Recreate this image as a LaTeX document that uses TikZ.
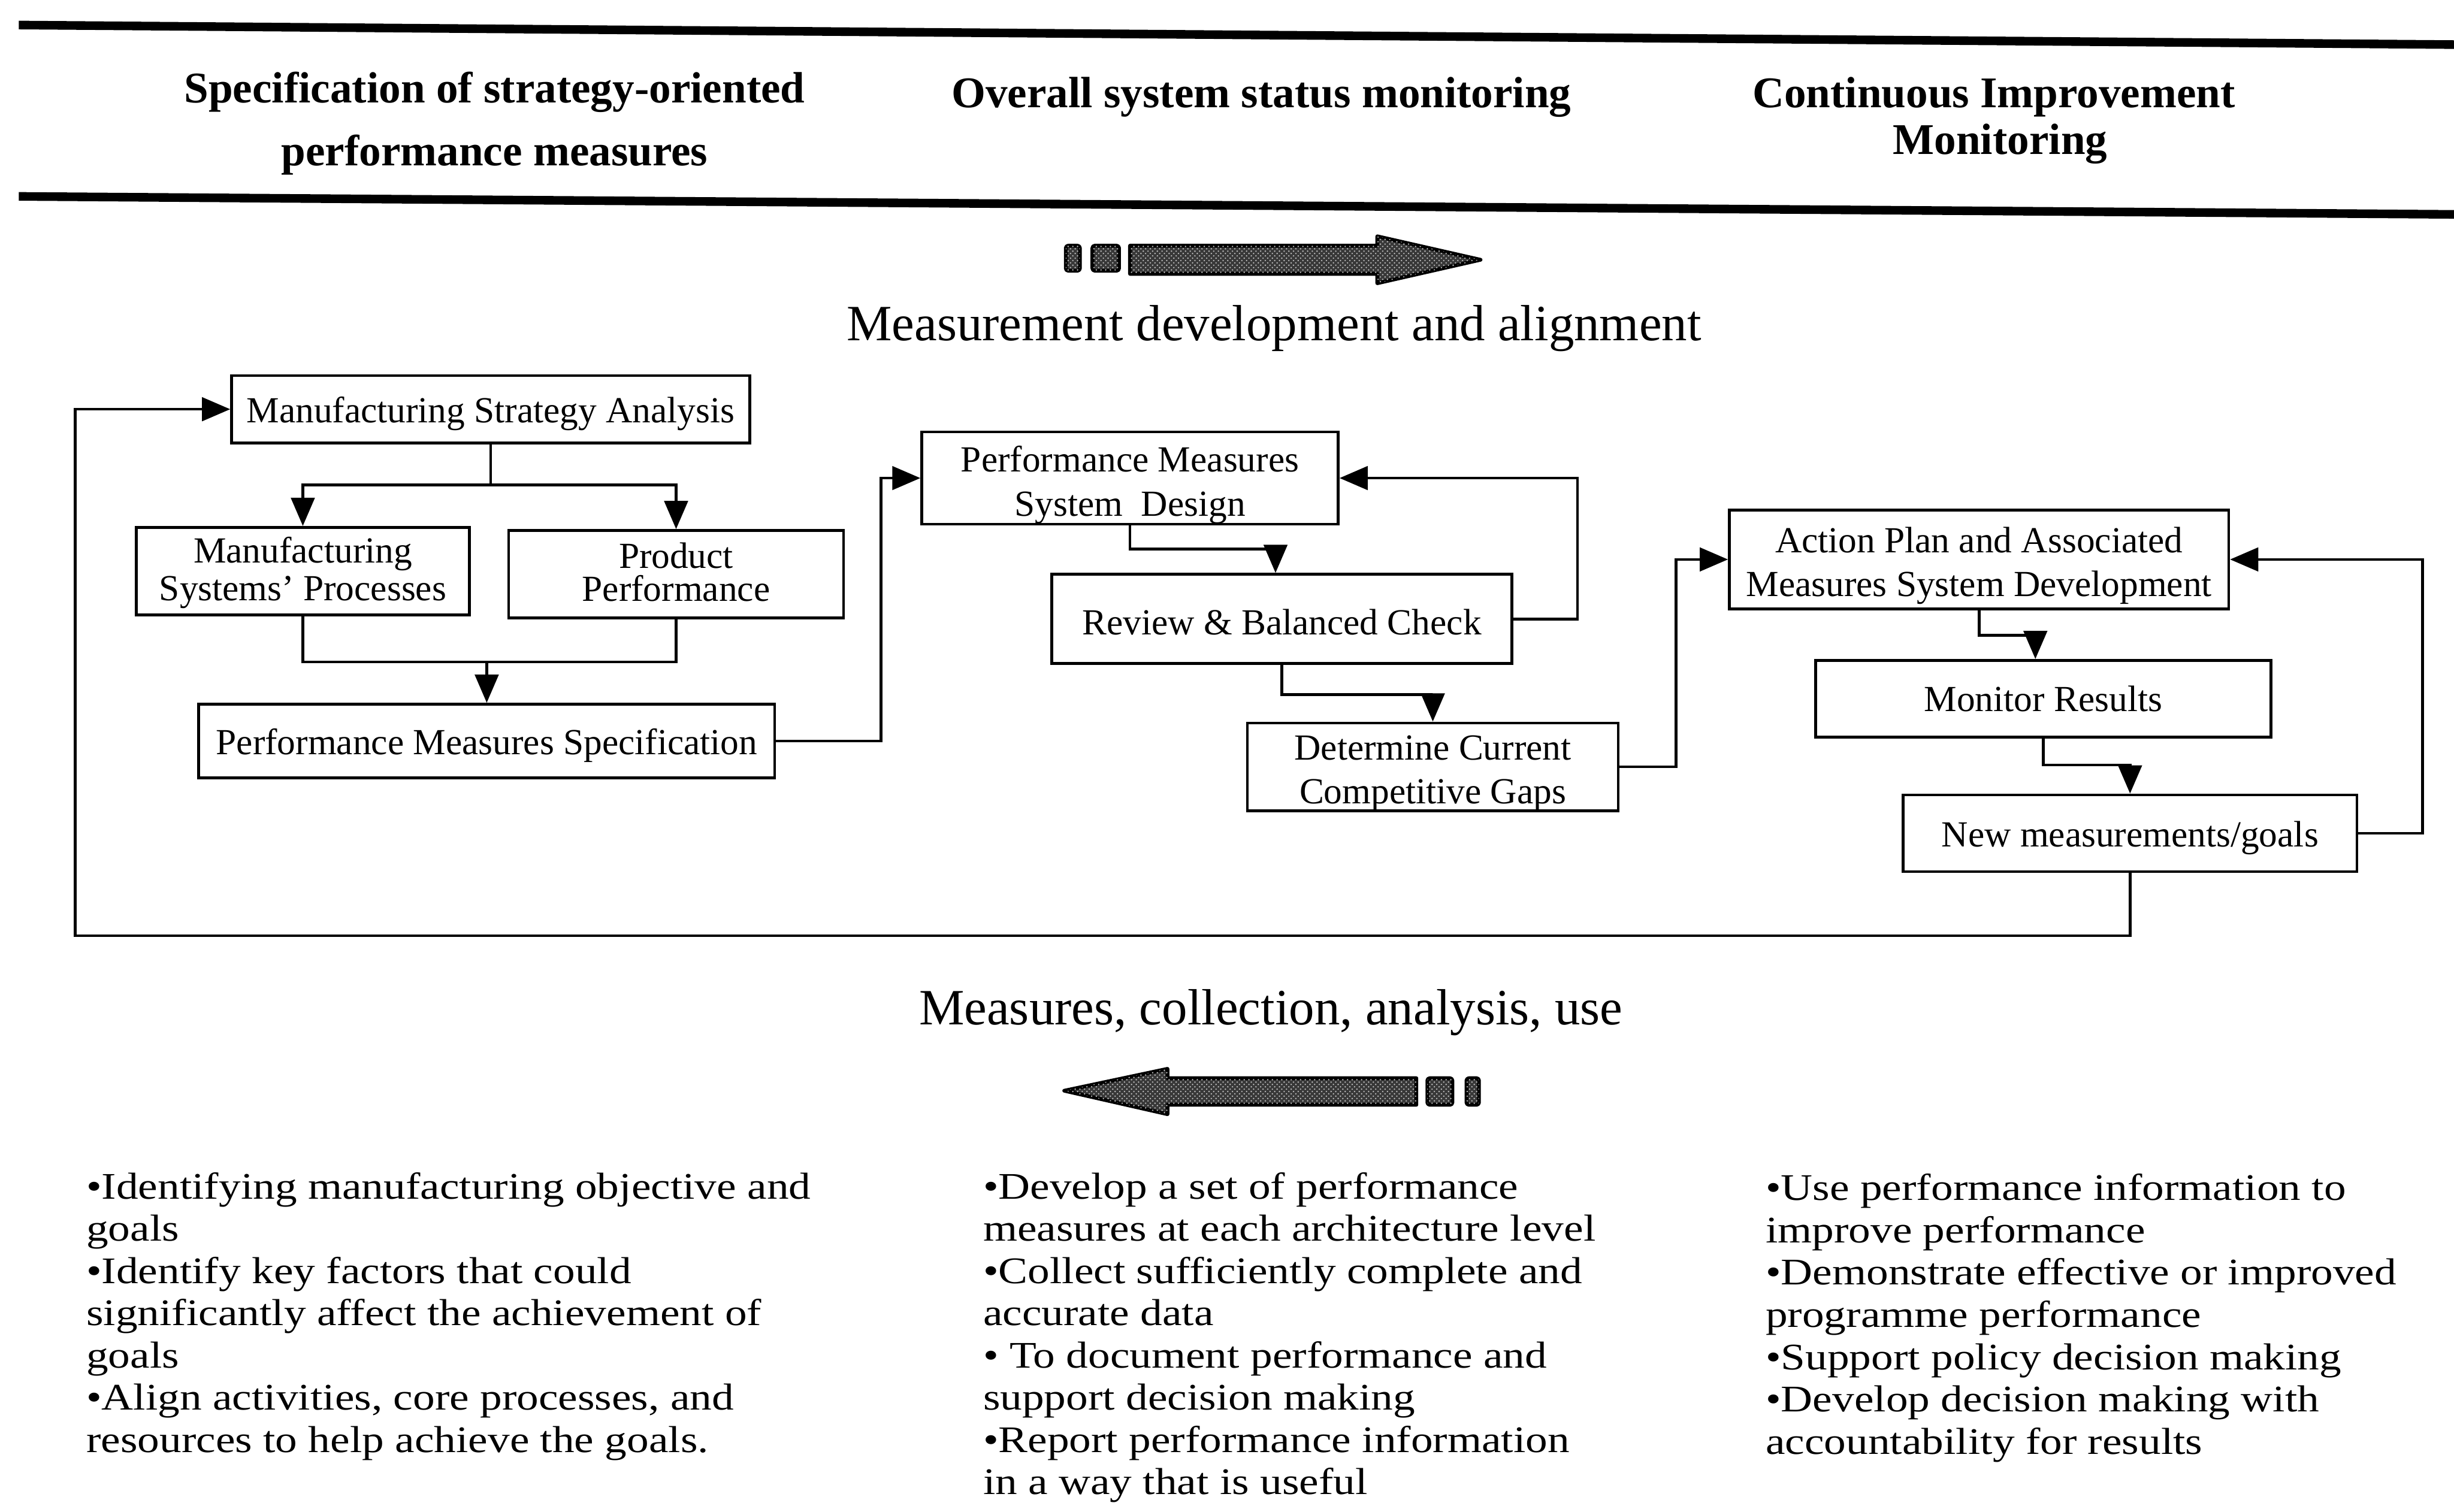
\documentclass[tikz,border=0pt]{standalone}
\usepackage{fontspec}
\setmainfont{Liberation Serif}
\newfontfamily\widefont[FakeStretch=1.17]{Liberation Serif}
\usetikzlibrary{arrows.meta,patterns}

% centred box lines, moved vertically while keeping their measured size
\newcommand\boxlines[2][0pt]{\raisebox{#1}[\height][\depth]{\begin{tabular}{@{}c@{}}#2\end{tabular}}}

\tikzset{
  box/.style={draw, line width=1.8pt, inner sep=0pt,
              font=\fontsize{23.5}{28}\selectfont},
  plain/.style={line width=1.8pt},
  link/.style={line width=1.8pt, -{Triangle[length=18pt,width=15pt]}},
  rule/.style={line width=5.5pt},
  heading/.style={font=\fontsize{28}{30}\selectfont\bfseries, inner sep=0pt},
  caption/.style={font=\fontsize{32.5}{36}\selectfont, inner sep=0pt},
  bullets/.style={font=\widefont\fontsize{24}{27}\selectfont, align=left,
                  inner sep=0pt, anchor=north west},
  hatched/.style={draw, line width=2.4pt, line join=round, fill=black!78,
                  postaction={pattern=crosshatch dots, pattern color=white!75!black}},
}

\begin{document}
\begin{tikzpicture}[x=1pt,y=-1pt]
\useasboundingbox (0,0) rectangle (1568,966);

% header rules
\draw[rule] (12,16) -- (1568,28.5);
\draw[rule] (12,125.5) -- (1568,137);

% column headings
\node[heading] (h1a) at (316,59) {Specification of strategy-oriented};
\node[heading] (h1b) at (316,99) {performance measures};
\node[heading] (h2)  at (806,62) {Overall system status monitoring};
\node[heading] (h3a) at (1274,62) {Continuous Improvement};
\node[heading] (h3b) at (1278,92) {Monitoring};

% forward hatched arrow
\draw[hatched, rounded corners=1.5pt] (681,157) rectangle (690,173);
\draw[hatched, rounded corners=1.5pt] (698,157) rectangle (715,173);
\draw[hatched] (722,157) -- (880,157) -- (880,151) -- (946,166)
               -- (880,181) -- (880,175) -- (722,175) -- cycle;

\node[caption] (topcap) at (814,210) {Measurement development and alignment};

% process boxes
\node[box, minimum width=331pt, minimum height=43pt] (msa)  at (313.5,261.5)
  {\boxlines[-3pt]{Manufacturing Strategy Analysis}};
\node[box, minimum width=213pt, minimum height=56pt] (msp)  at (193.5,365)
  {\boxlines[-1pt]{Manufacturing\\[-4pt]Systems' Processes}};
\node[box, minimum width=214pt, minimum height=56pt] (pp)   at (432,367)
  {\boxlines[-1pt]{Product\\[-7pt]Performance}};
\node[box, minimum width=368pt, minimum height=47pt] (pms)  at (311,473.5)
  {\boxlines[-3pt]{Performance Measures Specification}};
\node[box, minimum width=266pt, minimum height=59pt] (pmsd) at (722,305.5)
  {\boxlines[-4.5pt]{Performance Measures\\System\ \ Design}};
\node[box, minimum width=294pt, minimum height=57pt] (rbc)  at (819,395.5)
  {\boxlines[-4.5pt]{Review \& Balanced Check}};
\node[box, minimum width=237pt, minimum height=56pt] (dccg) at (915.5,490)
  {\boxlines[-4pt]{Determine Current\\Competitive Gaps}};
\node[box, minimum width=319pt, minimum height=63pt] (apam) at (1264.5,357.5)
  {\boxlines[-4pt]{Action Plan and Associated\\Measures System Development}};
\node[box, minimum width=291pt, minimum height=49pt] (mr)   at (1305.5,446.5)
  {\boxlines[-2.5pt]{Monitor Results}};
\node[box, minimum width=290pt, minimum height=49pt] (nmg)  at (1361,532.5)
  {\boxlines[-3pt]{New measurements/goals}};

% strategy branch
\coordinate (split) at (313.5,310);
\draw[plain] (msa.south) -- (split);
\draw[link] (split) -| (msp.north);
\draw[link] (split) -| (pp.north);
\coordinate (merge) at (313,423);
\draw[plain] (msp.south) |- (merge) -| (pp.south);
\draw[link] (merge) -- (merge -| pms.north) -- (pms.north);

% design and review loop
\draw[link] (pms.east) -- ++(67,0) |- (pmsd.west);
\draw[link] (pmsd.south) -- ++(0,15) -| ([xshift=-4pt]rbc.north);
\draw[link] (rbc.east) -- ++(41,0) |- (pmsd.east);
\draw[link] (rbc.south) -- ++(0,19) -| (dccg.north);
\draw[link] (dccg.east) -- ++(36,0) |- (apam.west);

% improvement loop
\draw[link] (apam.south) -- ++(0,16) -| ([xshift=-5pt]mr.north);
\draw[link] (mr.south) -- ++(0,17) -| (nmg.north);
\draw[link] (nmg.east) -- ++(41,0) |- (apam.east);
\coordinate (back) at (48,598);
\draw[link] (nmg.south) |- (back) |- (msa.west);

\node[caption] (botcap) at (812,647) {Measures, collection, analysis, use};

% backward hatched arrow
\draw[hatched] (680,697) -- (746,683) -- (746,689) -- (905,689)
               -- (905,706) -- (746,706) -- (746,712) -- cycle;
\draw[hatched, rounded corners=1.5pt] (912,689) rectangle (928,706);
\draw[hatched, rounded corners=1.5pt] (937,689) rectangle (945,706);

% objectives per column
\node[bullets] (col1) at (55,749) {%
•Identifying manufacturing objective and\\
goals\\
•Identify key factors that could\\
significantly affect the achievement of\\
goals\\
•Align activities, core processes, and\\
resources to help achieve the goals.};
\node[bullets] (col2) at (628,749) {%
•Develop a set of performance\\
measures at each architecture level\\
•Collect sufficiently complete and\\
accurate data\\
• To document performance and\\
support decision making\\
•Report performance information\\
in a way that is useful};
\node[bullets] (col3) at (1128,750) {%
•Use performance information to\\
improve performance\\
•Demonstrate effective or improved\\
programme performance\\
•Support policy decision making\\
•Develop decision making with\\
accountability for results};
\end{tikzpicture}
\end{document}
